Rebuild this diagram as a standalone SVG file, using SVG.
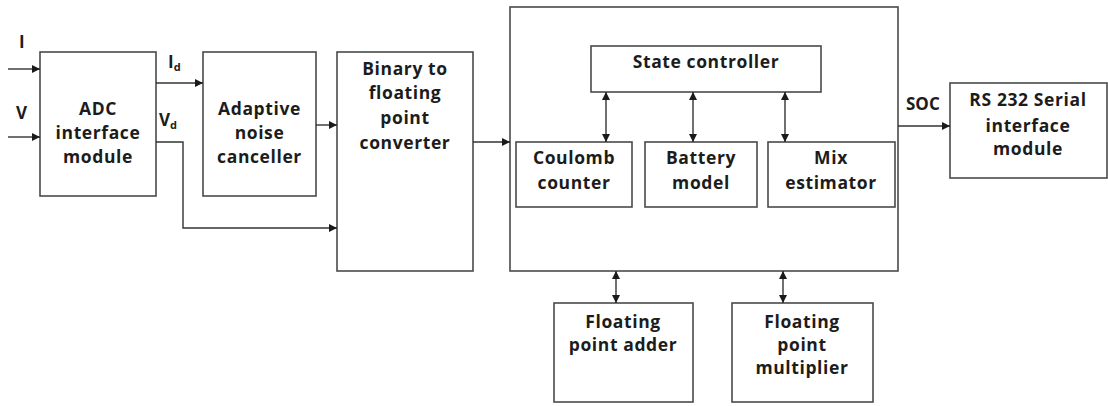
<svg xmlns="http://www.w3.org/2000/svg" width="1108" height="406" viewBox="0 0 1108 406">
<defs>
<marker id="ah" viewBox="0 0 10 10" refX="10" refY="5" markerWidth="10" markerHeight="8" markerUnits="userSpaceOnUse" orient="auto-start-reverse">
<path d="M0,0 L10,5 L0,10 z" fill="#1a1a1a"/>
</marker>
<style>
.box{fill:#fff;stroke:#4a4a4a;stroke-width:1.6}
.t{font-family:"Open Sans","Liberation Sans",sans-serif;font-weight:bold;font-size:17.5px;fill:#1c1c1c;text-anchor:middle;letter-spacing:0.6px}
.l{font-family:"Open Sans","Liberation Sans",sans-serif;font-weight:bold;font-size:17px;fill:#1c1c1c}
.s{font-size:11px}
.c{fill:none;stroke:#333;stroke-width:1.4}
.a{marker-end:url(#ah)}
.b{marker-start:url(#ah);marker-end:url(#ah)}
</style>
</defs>
<rect width="1108" height="406" fill="#fff"/>
<g id="adc">
<rect class="box" x="40" y="52" width="116" height="144"/>
<text class="t" x="98" y="115">ADC</text>
<text class="t" x="98" y="139">interface</text>
<text class="t" x="98" y="163">module</text>
</g>
<g id="anc">
<rect class="box" x="203" y="52" width="113" height="144"/>
<text class="t" x="259.5" y="115">Adaptive</text>
<text class="t" x="259.5" y="139">noise</text>
<text class="t" x="259.5" y="163">canceller</text>
</g>
<g id="b2f">
<rect class="box" x="337" y="52" width="136" height="219"/>
<text class="t" x="405" y="75">Binary to</text>
<text class="t" x="405" y="99">floating</text>
<text class="t" x="405" y="124">point</text>
<text class="t" x="405" y="149">converter</text>
</g>
<g id="core">
<rect class="box" x="510" y="7" width="388" height="264"/>
</g>
<g id="state">
<rect class="box" x="591" y="46" width="230" height="46"/>
<text class="t" x="706" y="68">State controller</text>
</g>
<g id="coulomb">
<rect class="box" x="516" y="142" width="116" height="65"/>
<text class="t" x="574" y="164">Coulomb</text>
<text class="t" x="574" y="189">counter</text>
</g>
<g id="battery">
<rect class="box" x="645" y="142" width="112" height="65"/>
<text class="t" x="701" y="164">Battery</text>
<text class="t" x="701" y="189">model</text>
</g>
<g id="mix">
<rect class="box" x="768" y="142" width="127" height="65"/>
<text class="t" x="831" y="164">Mix</text>
<text class="t" x="831" y="189">estimator</text>
</g>
<g id="rs232">
<rect class="box" x="950" y="83" width="157" height="95"/>
<text class="t" x="1028" y="106">RS 232 Serial</text>
<text class="t" x="1028" y="132">interface</text>
<text class="t" x="1028" y="155">module</text>
</g>
<g id="adder">
<rect class="box" x="554" y="303" width="139" height="99"/>
<text class="t" x="623" y="328">Floating</text>
<text class="t" x="623" y="351">point adder</text>
</g>
<g id="mult">
<rect class="box" x="732" y="303" width="141" height="99"/>
<text class="t" x="802" y="328">Floating</text>
<text class="t" x="802" y="351">point</text>
<text class="t" x="802" y="374">multiplier</text>
</g>
<g id="connectors">
<path class="c a" d="M8,69 H40"/>
<path class="c a" d="M8,137 H40"/>
<path class="c a" d="M156,83 H203"/>
<path class="c a" d="M156,142 H183 V228 H337"/>
<path class="c a" d="M316,125 H337"/>
<path class="c a" d="M473,142 H510"/>
<path class="c a" d="M898,126 H950"/>
<path class="c b" d="M606,92 V142"/>
<path class="c b" d="M693,92 V142"/>
<path class="c b" d="M785,92 V142"/>
<path class="c b" d="M616,271 V303"/>
<path class="c b" d="M783,271 V303"/>
</g>
<g id="labels">
<text class="l" x="19" y="48">I</text>
<text class="l" x="16" y="119">V</text>
<text class="l" x="168" y="68">I<tspan class="s" dy="3">d</tspan></text>
<text class="l" x="159" y="126">V<tspan class="s" dy="3">d</tspan></text>
<text class="l" x="906" y="110">SOC</text>
</g>
</svg>
